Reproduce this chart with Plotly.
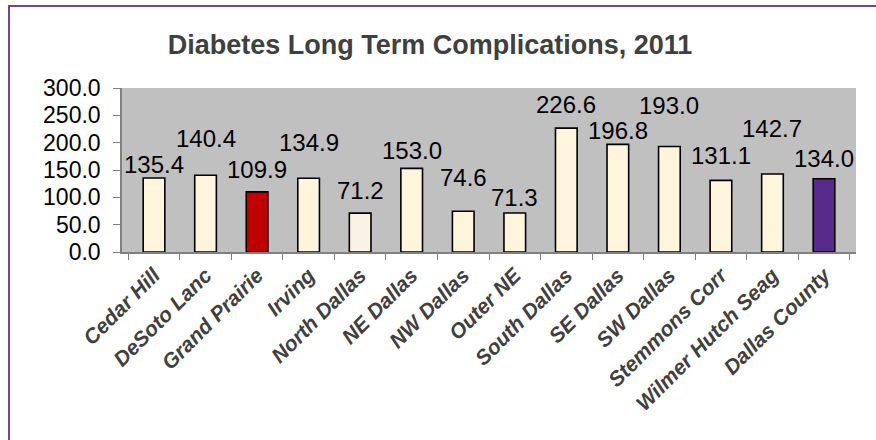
import plotly.graph_objects as go

categories = ["Cedar Hill", "DeSoto Lanc", "Grand Prairie", "Irving", "North Dallas",
              "NE Dallas", "NW Dallas", "Outer NE", "South Dallas", "SE Dallas",
              "SW Dallas", "Stemmons Corr", "Wilmer Hutch Seag", "Dallas County"]
values = [135.4, 140.4, 109.9, 134.9, 71.2, 153.0, 74.6, 71.3, 226.6, 196.8,
          193.0, 131.1, 142.7, 134.0]
bar_colors = ["#FFF5DC", "#FFF5DC", "#C00000", "#FFF5DC", "#FBF2E6", "#FFF5DC", "#FFF5DC",
              "#FFF5DC", "#FFF5DC", "#FFF5DC", "#FFF5DC", "#FFF5DC", "#FFF5DC", "#582A8C"]
# pixel offset of each data label above its bar top (manual label placement)
label_offsets = [13, 37, 22, 36, 23, 18, 34, 16, 24, 14, 41, 25, 45, 20]
y_ticks = [0, 50, 100, 150, 200, 250, 300]
title = "Diabetes Long Term Complications, 2011"

W, H = 876, 440
ml, mr, mt, mb = 122, 20, 88, 188
pw, ph = W - ml - mr, H - mt - mb

fig = go.Figure()
fig.add_trace(go.Bar(
    x=categories, y=values,
    marker=dict(color=bar_colors, line=dict(color="black", width=1.6)),
    width=0.42, showlegend=False, hoverinfo="x+y",
))

for c, v, off in zip(categories, values, label_offsets):
    fig.add_annotation(x=c, y=v, text=f"{v:.1f}", showarrow=False,
                       yshift=off, yanchor="middle", xanchor="center",
                       font=dict(family="Arial, Liberation Sans", size=24, color="black"))

# purple border (left and top visible, rest outside the frame)
fig.add_shape(type="rect", xref="paper", yref="paper",
              x0=(9 - ml) / pw, x1=(W + 10 - ml) / pw,
              y0=-(H + 10 - mt - ph) / ph, y1=1 + (mt - 6) / ph,
              line=dict(color="#6A44A8", width=2), fillcolor="rgba(0,0,0,0)", layer="above")

fig.update_layout(
    width=W, height=H,
    margin=dict(l=ml, r=mr, t=mt, b=mb, autoexpand=False),
    paper_bgcolor="white", plot_bgcolor="#C0C0C0",
    title=dict(text=f"<b>{title}</b>", x=(430) / W, xanchor="center",
               y=1 - 45 / H, yanchor="middle",
               font=dict(family="Arial, Liberation Sans", size=27, color="#404040")),
    bargap=0.58,
)
fig.update_xaxes(
    showgrid=False, showline=True, linecolor="#808080", linewidth=1.5,
    ticks="outside", tickson="boundaries", ticklen=6, tickcolor="#808080",
    tickangle=-45,
    tickfont=dict(family="Arial, Liberation Sans", size=21, color="#404040",
                  weight="bold", style="italic"),
    ticklabelstandoff=1,
    automargin=False,
)
fig.update_yaxes(
    range=[0, 300], tickvals=y_ticks, tickformat=".1f",
    showgrid=False, showline=True, linecolor="#808080", linewidth=1.5,
    ticks="outside", ticklen=7, tickcolor="#808080",
    tickfont=dict(family="Arial, Liberation Sans", size=23, color="black"),
    ticklabelstandoff=8, automargin=False, zeroline=False,
)

fig.write_html("out.html", config={"displayModeBar": False},
               post_script="document.body.style.margin='0';")
